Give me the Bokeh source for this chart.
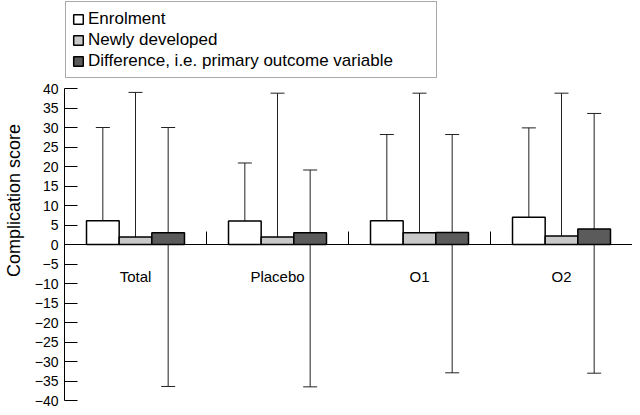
from bokeh.plotting import figure
from bokeh.models import (Range1d, FixedTicker, Whisker, TeeHead, ColumnDataSource,
                          Legend, LegendItem)
from bokeh.embed import file_html
from bokeh.resources import INLINE

# ---- data ----
groups = ["Total", "Placebo", "O1", "O2"]
series = ["Enrolment", "Newly developed", "Difference, i.e. primary outcome variable"]

enrol_mean = [6.1, 6.0, 6.1, 7.0]
enrol_low = [1.3, 1.1, 1.0, 0.9]
enrol_high = [30.0, 20.9, 28.2, 29.9]

newly_mean = [1.9, 1.9, 3.0, 2.2]
newly_low = [0.1, 0.1, 0.1, 0.1]
newly_high = [39.0, 38.8, 38.8, 38.8]

diff_mean = [3.0, 3.0, 3.1, 4.0]
diff_low = [-36.4, -36.5, -32.9, -33.0]
diff_high = [30.0, 19.1, 28.2, 33.6]

y_ticks = [-40, -35, -30, -25, -20, -15, -10, -5, 0, 5, 10, 15, 20, 25, 30, 35, 40]
y_tick_labels = ["\u221240", "\u221235", "\u221230", "\u221225", "\u221220", "\u221215",
                 "\u221210", "\u22125", "0", "5", "10", "15", "20", "25", "30", "35", "40"]

# ---- styling / layout ----
FONT = "Liberation Sans"
fills = ["#ffffff", "#c9c9c9", "#5b5b5b"]
offsets = [-0.23, 0.0, 0.23]
bar_w = 0.23
W, H = 632, 407
BOT = 7                 # space under the frame for the lowest tick label
TOP_PAD = 88            # pixels between frame top and the 40 tick (legend lives here)
frame_h = H - BOT
px_per_unit = (frame_h - TOP_PAD) / 80.0
y_top = 40 + TOP_PAD / px_per_unit

p = figure(width=W, height=H, output_backend="svg", toolbar_location=None,
           x_range=Range1d(0, len(groups)), y_range=Range1d(-40, y_top),
           min_border_left=64, min_border_right=0, min_border_bottom=BOT, min_border_top=0)
p.outline_line_color = None
p.xgrid.visible = False
p.ygrid.visible = False
p.background_fill_color = "white"
p.border_fill_color = "white"

means = [enrol_mean, newly_mean, diff_mean]
lows = [enrol_low, newly_low, diff_low]
highs = [enrol_high, newly_high, diff_high]

items = []
for k in range(3):
    xs = [i + 0.5 + offsets[k] for i in range(len(groups))]
    src = ColumnDataSource(dict(x=xs, top=means[k], low=lows[k], high=highs[k]))
    r = p.vbar(x="x", top="top", bottom=0, width=bar_w, source=src,
               fill_color=fills[k], line_color="black", line_width=1.5)
    items.append(LegendItem(label=series[k], renderers=[r]))
    w = Whisker(source=src, base="x", upper="high", lower="low",
                line_color="#222222", line_width=1,
                upper_head=TeeHead(size=14, line_color="#222222", line_width=1),
                lower_head=TeeHead(size=14, line_color="#222222", line_width=1))
    p.add_layout(w)

# y axis
ya = p.yaxis[0]
ya.bounds = (-40, 40)
ya.ticker = FixedTicker(ticks=y_ticks)
ya.major_label_overrides = dict(zip(y_ticks, y_tick_labels))
ya.major_tick_in = 13
ya.major_tick_out = 0
ya.minor_tick_in = 0
ya.minor_tick_out = 0
ya.major_label_standoff = 6
ya.major_label_text_font = FONT
ya.major_label_text_font_size = "14px"
ya.major_label_text_color = "black"
ya.axis_line_color = "black"
ya.major_tick_line_color = "black"
ya.axis_label = "Complication score"
ya.axis_label_text_font = FONT
ya.axis_label_text_font_size = "18px"
ya.axis_label_text_font_style = "normal"
ya.axis_label_text_color = "black"
ya.axis_label_standoff = 8

# x axis at y = 0
centers = [i + 0.5 for i in range(len(groups))]
bounds = [i + 1 for i in range(len(groups))]
xa = p.xaxis[0]
xa.fixed_location = 0
xa.ticker = FixedTicker(ticks=centers, minor_ticks=bounds)
xa.major_label_overrides = dict(zip(centers, groups))
xa.major_tick_in = 0
xa.major_tick_out = 0
xa.minor_tick_in = 13
xa.minor_tick_out = 0
xa.minor_tick_line_color = "black"
xa.axis_line_color = "black"
xa.major_label_standoff = 23
xa.major_label_text_font = FONT
xa.major_label_text_font_size = "15px"
xa.major_label_text_color = "black"

legend = Legend(items=items, location="top_left", orientation="vertical",
                label_text_font=FONT, label_text_font_size="17px", label_text_color="black",
                glyph_width=12, glyph_height=12, label_height=21, label_standoff=4,
                spacing=0, padding=6, margin=1, label_width=342,
                border_line_color="#555555", border_line_width=1,
                background_fill_color="white")
p.add_layout(legend)

open("out.html", "w").write(file_html(p, INLINE))
